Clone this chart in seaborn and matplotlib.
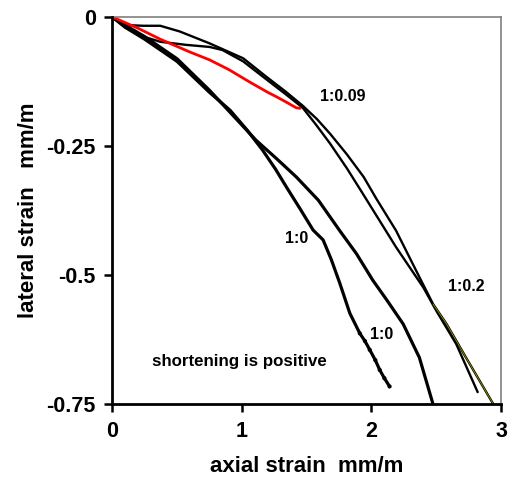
import numpy as np
import pandas as pd
import matplotlib
matplotlib.use("Agg")
import matplotlib.pyplot as plt
import seaborn as sns

# ---- data ----
c10a_x = [0, 0.1, 0.25, 0.5, 0.75, 0.91, 1.04, 1.16, 1.26, 1.345, 1.45, 1.55, 1.627, 1.69, 1.756, 1.833, 1.91, 1.95, 1.987, 2.03, 2.064, 2.10, 2.14]
c10a_y = [0, -0.02, -0.043, -0.086, -0.146, -0.181, -0.219, -0.258, -0.295, -0.33, -0.372, -0.413, -0.432, -0.47, -0.516, -0.574, -0.613, -0.628, -0.645, -0.665, -0.684, -0.70, -0.716]

c10b_x = [0, 0.1, 0.25, 0.5, 0.75, 0.91, 1.11, 1.27, 1.42, 1.59, 1.755, 1.81, 1.885, 2.01, 2.12, 2.245, 2.37, 2.475]
c10b_y = [0, -0.016, -0.038, -0.081, -0.142, -0.185, -0.239, -0.275, -0.31, -0.355, -0.414, -0.433, -0.459, -0.51, -0.549, -0.595, -0.66, -0.75]

u1_x = [0, 0.06, 0.14, 0.24, 0.37, 0.52, 0.75, 1.01, 1.19, 1.34, 1.47, 1.58, 1.68, 1.81, 1.94, 2.04, 2.19, 2.37, 2.475, 2.58, 2.73, 2.94]
u1_y = [0, -0.01, -0.016, -0.017, -0.017, -0.028, -0.051, -0.08, -0.116, -0.145, -0.172, -0.198, -0.226, -0.266, -0.31, -0.353, -0.414, -0.504, -0.556, -0.595, -0.66, -0.75]

u2_x = [0, 0.1, 0.24, 0.37, 0.57, 0.75, 0.85, 1.01, 1.19, 1.34, 1.47, 1.57, 1.68, 1.81, 1.94, 2.19, 2.40, 2.50, 2.655, 2.82]
u2_y = [0, -0.02, -0.038, -0.048, -0.054, -0.058, -0.064, -0.086, -0.121, -0.15, -0.176, -0.208, -0.245, -0.293, -0.345, -0.446, -0.524, -0.569, -0.634, -0.727]

red_x = [0, 0.2, 0.37, 0.6, 0.75, 0.9, 1.06, 1.2, 1.27, 1.35, 1.42, 1.45]
red_y = [0, -0.022, -0.043, -0.068, -0.083, -0.102, -0.126, -0.146, -0.155, -0.166, -0.176, -0.177]

labels = ["1:0.09", "1:0.2", "1:0", "1:0"]
label_x = [1.78, 2.73, 1.42, 2.08]
label_y = [-0.155, -0.523, -0.429, -0.616]
note = "shortening is positive"

x_ticks = [0, 1, 2, 3]
y_ticks = [0, -0.25, -0.5, -0.75]
y_ticklabels = ["0", "-0.25", "-0.5", "-0.75"]

sns.set_theme(style="white")
plt.rcParams['font.family'] = ['Liberation Sans', 'DejaVu Sans']
plt.rcParams['text.color'] = 'black'
plt.rcParams['axes.labelcolor'] = 'black'
plt.rcParams['xtick.color'] = 'black'
plt.rcParams['ytick.color'] = 'black'

fig = plt.figure(figsize=(5.10, 4.78), dpi=100)
ax = fig.add_axes([112.3 / 510, 1 - 404 / 478, (501 - 112.3) / 510, (404 - 17) / 478])

curves = [
    (c10a_x, c10a_y, "black", 2.3),
    (c10b_x, c10b_y, "black", 2.3),
    (u1_x, u1_y, "black", 1.7),
    (u2_x, u2_y, "black", 1.7),
]
for cx, cy, col, lw in curves:
    sns.lineplot(x=cx, y=cy, sort=False, estimator=None, color=col, lw=lw, ax=ax)

# olive trace along the end of the 1:0.2 curve
sns.lineplot(x=u1_x[-4:], y=u1_y[-4:], sort=False, estimator=None, color="#9a9a00", lw=0.6, ax=ax)

# dotted tail of the first 1:0 curve
sns.scatterplot(x=c10a_x[-7:], y=c10a_y[-7:], color="black", s=9, edgecolor="none", ax=ax)

sns.lineplot(x=red_x, y=red_y, sort=False, estimator=None, color="#ff0000", lw=2.0, ax=ax)

for t, lx, ly in zip(labels, label_x, label_y):
    ax.text(lx, ly, t, ha="center", va="center", fontsize=11.5, fontweight="bold", color="black")
ax.text(0.98, -0.668, note, ha="center", va="center", fontsize=12.2, fontweight="bold", color="black")

ax.set_xlim(0, 3)
ax.set_ylim(-0.75, 0)
ax.set_xticks(x_ticks)
ax.set_xticklabels([str(v) for v in x_ticks], fontsize=15.5, fontweight="bold")
ax.set_yticks(y_ticks)
ax.set_yticklabels(y_ticklabels, fontsize=15.5, fontweight="bold")
ax.tick_params(axis="both", direction="out", length=6, width=1.8, color="black",
               labelcolor="black", pad=6, bottom=True, left=True)
ax.set_xlabel("axial strain  mm/m", fontsize=16, fontweight="bold", labelpad=10, color="black")
ax.set_ylabel("lateral strain   mm/m", fontsize=16, fontweight="bold", labelpad=5, color="black")

for s in ["left", "bottom"]:
    ax.spines[s].set_color("black")
    ax.spines[s].set_linewidth(2.0)
    ax.spines[s].set_zorder(5)
for s in ["top", "right"]:
    ax.spines[s].set_color("#808080")
    ax.spines[s].set_linewidth(1.2)
    ax.spines[s].set_visible(True)

fig.savefig("out.png", dpi=100)
